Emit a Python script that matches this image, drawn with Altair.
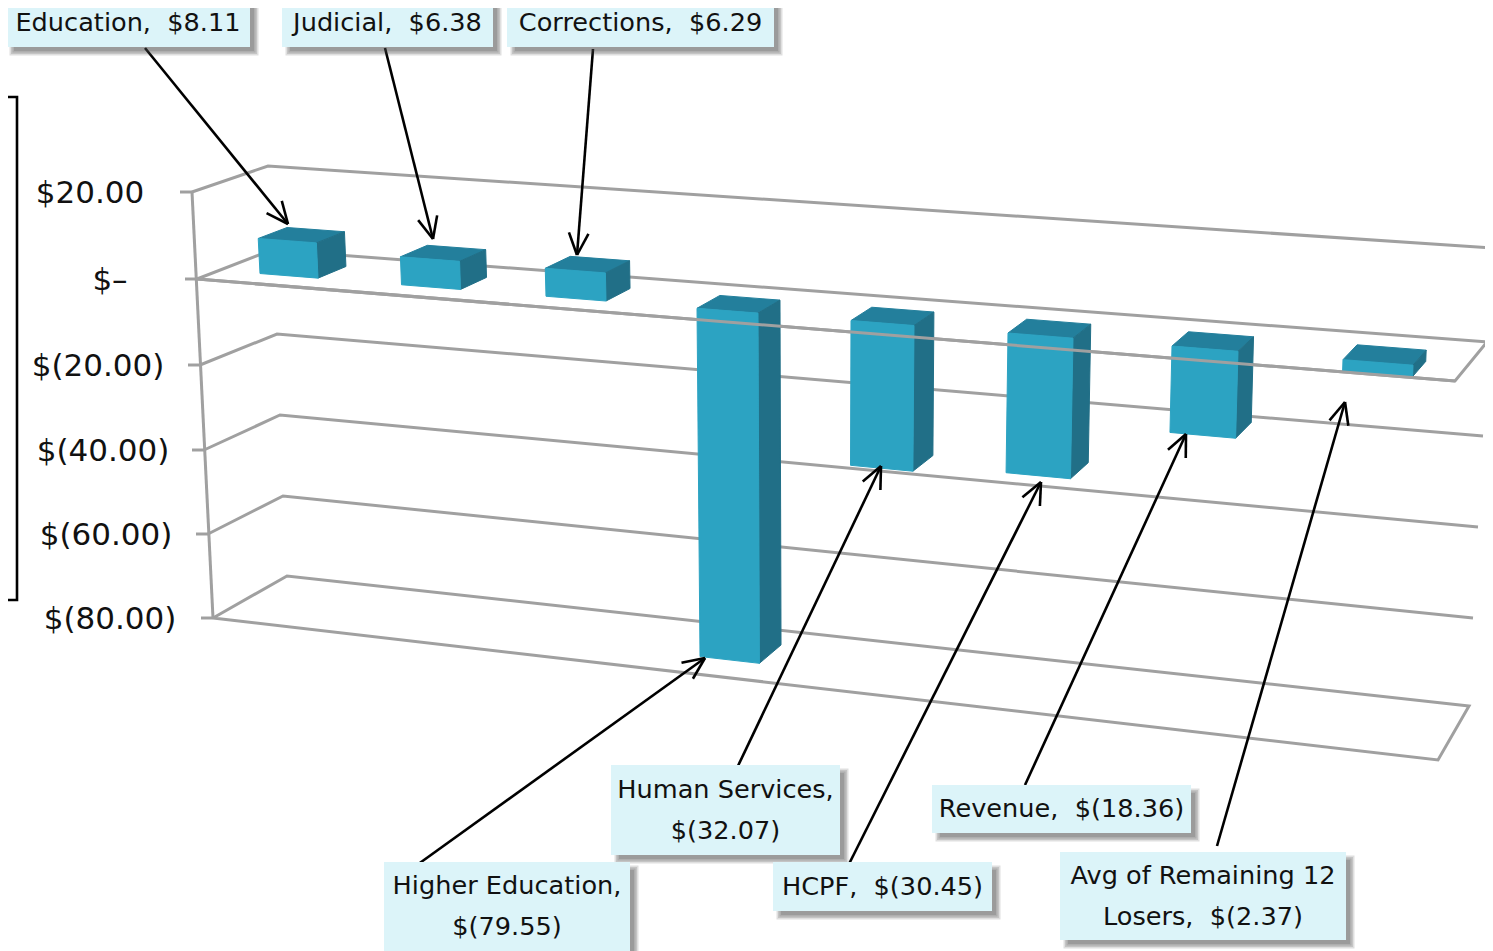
import altair as alt
import numpy as np
import pandas as pd

# ---- chart values
categories = ["Education", "Judicial", "Corrections", "Higher Education",
              "Human Services", "HCPF", "Revenue", "Avg of Remaining 12 Losers"]
values = [8.11, 6.38, 6.29, -79.55, -32.07, -30.45, -18.36, -2.37]
axis_ticks = [20, 0, -20, -40, -60, -80]
axis_labels = ["$20.00", "$\u2013", "$(20.00)", "$(40.00)", "$(60.00)", "$(80.00)"]

# ---- layout: labels, boxes, arrows (page pixels)
callouts = [
    (["Education,\u00a0 $8.11"], (6, 0, 250, 47), (145, 48), (288, 224)),
    (["Judicial,\u00a0 $6.38"], (282, 0, 493, 47), (385, 48), (433, 239)),
    (["Corrections,\u00a0 $6.29"], (507, 0, 774, 47), (593, 49), (577, 255)),
    (["Higher Education,", "$(79.55)"], (384, 862, 630, 955), (417, 865), (705, 658)),
    (["Human Services,", "$(32.07)"], (611, 765, 840, 855), (737, 768), (881, 466)),
    (["HCPF,\u00a0 $(30.45)"], (773, 862, 992, 911), (849, 864), (1041, 482)),
    (["Revenue,\u00a0 $(18.36)"], (932, 785, 1191, 833), (1025, 785), (1186, 434)),
    (["Avg of Remaining 12", "Losers,\u00a0 $(2.37)"], (1060, 852, 1346, 940), (1217, 846), (1345, 402)),
]
axis_label_x = [90, 110, 98, 103, 106, 110]
band_centres = [289, 431, 576, 727.5, 882.5, 1040.5, 1205, 1378]
band_half = [29, 29.5, 30, 30.5, 31.5, 32.5, 33, 35]

GRID = "#a0a0a0"
FRONT, SIDE, TOP = "#2ca3c2", "#216f87", "#237f9c"
BOX = "#dcf4f9"
FONT = "DejaVu Sans"

# ---- 3D frame: screen position of each value tick on the four vertical edges
FL = np.array([(192, 192), (197, 279), (200, 365), (204, 450), (208, 534), (213, 618)], float)
BL = np.array([(268, 166), (272, 250), (277, 334), (280, 415), (283, 496), (287, 576)], float)
BR = np.array([(1492, 248), (1487, 342), (1483, 436), (1478, 527), (1473, 618), (1469, 706)], float)
FR = np.array([(1459, 283), (1455, 381), (1451, 479), (1447, 574), (1442, 668), (1438, 760)], float)
TV = np.array(axis_ticks[::-1], float)


def edge(c, v):
    c = c[::-1]
    return np.array([np.interp(v, TV, c[:, 0]), np.interp(v, TV, c[:, 1])])


def project(u, v, d):
    front = edge(FL, v) * (1 - u) + edge(FR, v) * u
    back = edge(BL, v) * (1 - u) + edge(BR, v) * u
    return front * (1 - d) + back * d


D0, D1 = 0.30, 0.69
XL = 197 + D0 * 75
XR = 1455 + D0 * 32


def cat_u(x):
    return (x - XL) / (XR - XL)


rows_f, rows_s, rows_t = [], [], []


def add_poly(rows, key, pts):
    for k, p in enumerate(list(pts) + [pts[0]]):
        rows.append({"id": key, "k": k, "x": float(p[0]), "y": float(p[1])})


for i, val in enumerate(values):
    u0, u1 = cat_u(band_centres[i] - band_half[i]), cat_u(band_centres[i] + band_half[i])
    hi, lo = max(val, 0), min(val, 0)
    add_poly(rows_f, categories[i], [project(u0, hi, D0), project(u1, hi, D0),
                                     project(u1, lo, D0), project(u0, lo, D0)])
    add_poly(rows_s, categories[i], [project(u1, hi, D0), project(u1, hi, D1),
                                     project(u1, lo, D1), project(u1, lo, D0)])
    add_poly(rows_t, categories[i], [project(u0, hi, D0), project(u0, hi, D1),
                                     project(u1, hi, D1), project(u1, hi, D0)])

# ---- grid
back_rows, front_rows = [], []


def add_path(rows, key, pts):
    for k, p in enumerate(pts):
        rows.append({"id": key, "k": k, "x": float(p[0]), "y": float(p[1])})


for j, tv in enumerate(axis_ticks):
    f, b, r = FL[j], BL[j], BR[j]
    path = [f, b, r]
    if tv in (0, -80):
        path = [f, b, r, FR[j], f]
    add_path(back_rows, f"g{tv}", path)
    add_path(front_rows, f"t{tv}", [f - np.array([12, 0]), f])
add_path(front_rows, "axis", [FL[0], FL[-1]])
add_path(front_rows, "zero", [FL[1], FR[1]])

# ---- callouts
boxes, shadows, texts, arrows = [], [], [], []
for n, (lines, (x0, y0, x1, y1), a, b) in enumerate(callouts):
    boxes.append({"x": x0, "x2": x1, "y": y0, "y2": y1})
    for g in (0, 1.5, 3, 4.5):
        shadows.append({"x": x0 + 8 - g, "x2": x1 + 4 + g, "y": y0 + 8 - g, "y2": y1 + 4 + g})
    lh = 41
    cy = (y0 + y1) / 2 - (len(lines) - 1) * lh / 2
    if y1 > 951:
        cy -= 2
    if y0 == 0:
        cy -= 1
    for m, line in enumerate(lines):
        texts.append({"x": (x0 + x1) / 2, "y": cy + m * lh, "t": line})
    a, b = np.array(a, float), np.array(b, float)
    add_path(arrows, f"a{n}", [a, b])
    ang = np.arctan2(*(a - b)[::-1])
    for s in (-1, 1):
        q = b + 24 * np.array([np.cos(ang + s * 0.42), np.sin(ang + s * 0.42)])
        add_path(arrows, f"a{n}h{s}", [q, b])

bracket = []
add_path(bracket, "b", [(0, 97), (17, 97), (17, 600), (0, 600)])

ax_text = pd.DataFrame({"x": axis_label_x, "y": FL[:, 1] + 2, "t": axis_labels})

# ---- scales map page pixels 1:1
W, H = 1477, 943
X = alt.X("x:Q", scale=alt.Scale(domain=[8, 8 + W], range=[0, W], nice=False, zero=False), axis=None)
Y = alt.Y("y:Q", scale=alt.Scale(domain=[8, 8 + H], range=[0, H], nice=False, zero=False), axis=None)
X2, Y2 = alt.X2("x2:Q"), alt.Y2("y2:Q")


def path_layer(rows, color, width):
    return alt.Chart(pd.DataFrame(rows)).mark_line(
        color=color, strokeWidth=width, strokeJoin="miter", clip=True
    ).encode(x=X, y=Y, detail="id:N", order="k:Q")


def poly_layer(rows, color):
    return alt.Chart(pd.DataFrame(rows)).mark_line(
        fill=color, stroke=color, strokeWidth=1, clip=True
    ).encode(x=X, y=Y, detail="id:N", order="k:Q")


layers = [
    path_layer(back_rows, GRID, 3),
    poly_layer(rows_t, TOP),
    poly_layer(rows_s, SIDE),
    poly_layer(rows_f, FRONT),
    path_layer(front_rows, GRID, 3),
    alt.Chart(ax_text).mark_text(font=FONT, fontSize=31, color="#111").encode(x=X, y=Y, text="t:N"),
    path_layer(bracket, "#000", 2.6),
    path_layer(arrows, "#000", 2.6),
    alt.Chart(pd.DataFrame(shadows)).mark_rect(color="#444", opacity=0.17, clip=True).encode(x=X, x2=X2, y=Y, y2=Y2),
    alt.Chart(pd.DataFrame(boxes)).mark_rect(color=BOX, clip=True).encode(x=X, x2=X2, y=Y, y2=Y2),
    alt.Chart(pd.DataFrame(texts)).mark_text(font=FONT, fontSize=25.6, color="#111").encode(x=X, y=Y, text="t:N"),
]

chart = alt.layer(*layers).properties(
    width=W, height=H, padding=0, autosize=alt.AutoSizeParams(type="none"),
).configure_view(stroke=None)

chart.save("out.html", embed_options={"renderer": "svg", "actions": False})
